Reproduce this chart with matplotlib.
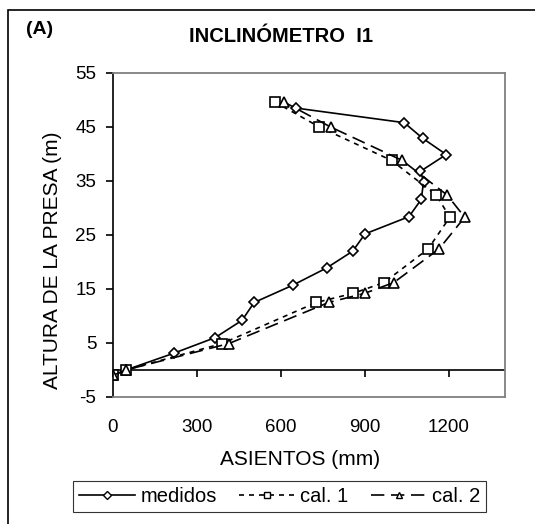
import matplotlib.pyplot as plt
from matplotlib.patches import Rectangle

plt.rcParams['font.family'] = ['Liberation Sans', 'DejaVu Sans']
plt.rcParams['axes.unicode_minus'] = False

# alturas (m) y asientos (mm)
alt_med = [-1, 0, 3.1, 6.0, 9.2, 12.5, 15.7, 18.9, 22.0, 25.2, 28.4, 31.6, 34.9, 36.8, 39.9, 42.9, 45.8, 48.5]
asi_med = [0, 46, 217, 365, 461, 504, 642, 763, 856, 900, 1057, 1101, 1109, 1098, 1190, 1106, 1040, 654]

alt_cal = [-1, 0, 4.9, 12.5, 14.2, 16.2, 22.4, 28.3, 32.4, 38.8, 45.0, 49.6]
asi_cal1 = [0, 46, 390, 726, 858, 968, 1125, 1203, 1154, 995, 737, 579]
asi_cal2 = [0, 46, 414, 770, 899, 1003, 1164, 1256, 1193, 1033, 777, 612]

xticks = [0, 300, 600, 900, 1200]
yticks = [-5, 5, 15, 25, 35, 45, 55]

fig = plt.figure(figsize=(5.35, 5.24), dpi=100)
ax = fig.add_axes([0.2112, 0.2424, 0.7328, 0.6183])

mk = dict(markersize=6.5, markerfacecolor='white', markeredgecolor='black', markeredgewidth=1.2)
ax.plot(asi_med, alt_med, '-', color='black', lw=1.2, marker='D', label='medidos', **dict(mk, markersize=5.5))
ax.plot(asi_cal1, alt_cal, color='black', lw=1.2, ls=(0, (3, 3)), marker='s', label='cal. 1', **mk)
ax.plot(asi_cal2, alt_cal, color='black', lw=1.2, ls=(0, (8, 4)), marker='^', label='cal. 2', **mk)

ax.set_xlim(0, 1400)
ax.set_ylim(-5, 55)
ax.set_yticks(yticks)
ax.set_xticks(xticks)

for s in ['top', 'right', 'bottom']:
    ax.spines[s].set_color('#808080')
    ax.spines[s].set_linewidth(1.3)
ax.spines['left'].set_color('black')
ax.spines['left'].set_linewidth(1.2)

ax.tick_params(axis='y', direction='out', length=5, width=1.2, labelsize=13.5, pad=7)
ax.tick_params(axis='x', length=0, labelsize=13.5, pad=16)

# eje x en y = 0 con marcas hacia abajo
ax.axhline(0, color='black', lw=1.2, zorder=1)
sec = ax.secondary_xaxis(5 / 60)
sec.set_xticks(xticks)
sec.tick_params(direction='out', length=5, width=1.2, labelbottom=False, labeltop=False)
sec.spines['bottom'].set_visible(False)
sec.spines['top'].set_visible(False)

ax.set_xlabel('ASIENTOS (mm)', fontsize=15)
ax.xaxis.set_label_coords(0.476, -0.1636)
ax.set_ylabel('ALTURA DE LA PRESA (m)', fontsize=15)
ax.yaxis.set_label_coords(-0.130, 0.423)

fig.text(281 / 535, 1 - 36 / 524, 'INCLINÓMETRO  I1', fontsize=14.5, fontweight='bold', ha='center', va='center')
fig.text(40 / 535, 1 - 30 / 524, '(A)', fontsize=14, fontweight='bold', ha='center', va='center')

leg = fig.legend(loc='upper center', bbox_to_anchor=(279.5 / 535, 1 - 481 / 524), ncol=3, fontsize=14.5,
                 frameon=True, fancybox=False, edgecolor='black', handlelength=2.8, handletextpad=0.25,
                 columnspacing=1.1, borderpad=0.3, borderaxespad=0)
leg.get_frame().set_linewidth(0.8)
for h in leg.legend_handles:
    h.set_markersize(4.5)
    h.set_markeredgewidth(1.0)

fig.add_artist(Rectangle((8 / 535, -0.1), 1.2, 1 - 10 / 524 + 0.1, transform=fig.transFigure,
                         fill=False, edgecolor='black', lw=1.2))

fig.savefig('out.png', dpi=100)
